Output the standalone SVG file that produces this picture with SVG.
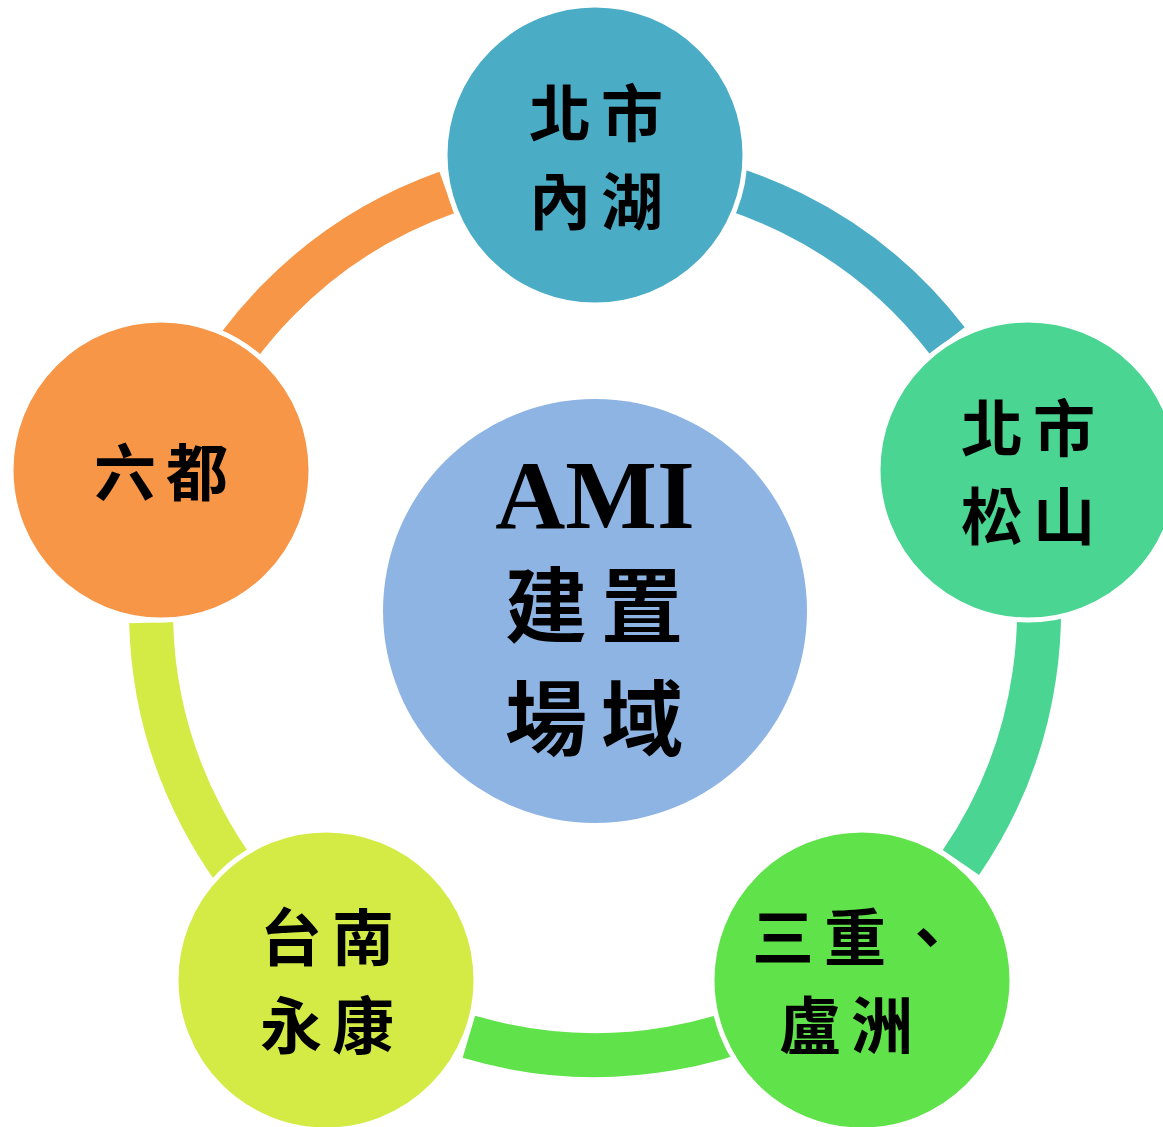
<svg xmlns="http://www.w3.org/2000/svg" width="1163" height="1127" viewBox="0 0 1163 1127">
<style>
.arc{fill:none;stroke-width:44;stroke-linecap:butt}
.node{stroke:#fff;stroke-width:5}
.t{font-family:"Noto Sans CJK TC","Noto Sans CJK SC",sans-serif;font-weight:700;font-size:62px;letter-spacing:10px;text-anchor:middle;dominant-baseline:central;fill:#000}
.c{font-size:82px;letter-spacing:14px}
.ami{font-family:"Liberation Serif",serif;font-weight:700;font-size:97px;text-anchor:middle;fill:#000}
</style>
<rect width="1163" height="1127" fill="#fff"/>
<g id="connectors">
<path class="arc" stroke="#4BACC6" d="M595,167 A444,444 0 0 1 947.25,340.71"/>
<path class="arc" stroke="#4AD592" d="M1017.27,473.8 A444,444 0 0 1 960.91,862.49"/>
<path class="arc" stroke="#60E24A" d="M855.98,970.2 A444,444 0 0 1 468.9,1036.72"/>
<path class="arc" stroke="#D4EB45" d="M334.02,970.2 A444,444 0 0 1 151.15,622.62"/>
<path class="arc" stroke="#F79646" d="M172.73,473.8 A444,444 0 0 1 446.79,192.47"/>
</g>
<g id="center">
<circle cx="595" cy="611" r="212" fill="#8EB4E3"/>
<text class="ami" x="595" y="528">AMI</text>
<text class="t c" x="601" y="600">建置</text>
<text class="t c" x="601" y="713">場域</text>
</g>
<g id="n1">
<circle class="node" cx="595" cy="155" r="150" fill="#4BACC6"/>
<text class="t" x="601" y="110">北市</text>
<text class="t" x="601" y="198">內湖</text>
</g>
<g id="n2">
<circle class="node" cx="1028" cy="470" r="150" fill="#4AD592"/>
<text class="t" x="1033" y="425">北市</text>
<text class="t" x="1033" y="513">松山</text>
</g>
<g id="n3">
<circle class="node" cx="862" cy="980" r="150" fill="#60E24A"/>
<text class="t" x="860" y="934">三重、</text>
<text class="t" x="851" y="1022">盧洲</text>
</g>
<g id="n4">
<circle class="node" cx="326" cy="980" r="150" fill="#D4EB45"/>
<text class="t" x="332" y="934">台南</text>
<text class="t" x="332" y="1022">永康</text>
</g>
<g id="n5">
<circle class="node" cx="161" cy="470" r="150" fill="#F79646"/>
<text class="t" x="166" y="469">六都</text>
</g>
</svg>
